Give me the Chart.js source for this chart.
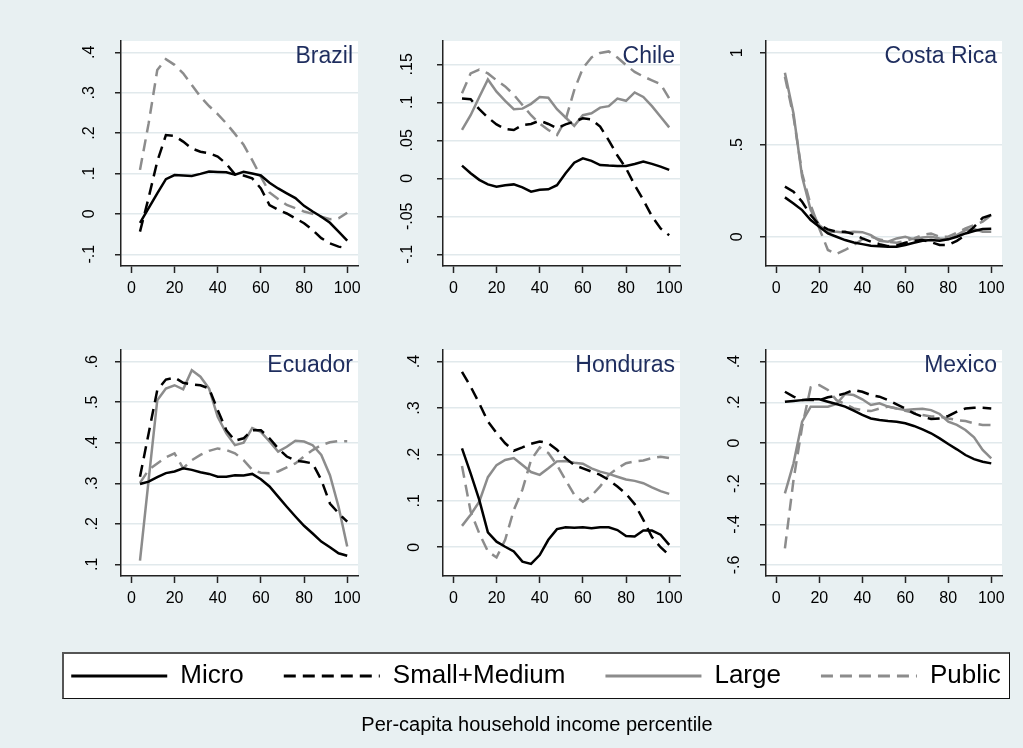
<!DOCTYPE html>
<html>
<head>
<meta charset="utf-8">
<script src="https://cdn.jsdelivr.net/npm/chart.js@4/dist/chart.umd.min.js"></script>
<style>
    html, body { margin: 0; padding: 0; overflow: hidden; }
    body { width: 1023px; height: 748px; background: #e8f0f2; position: relative; font-family: "Liberation Sans", Arial, sans-serif; }
    canvas { position: absolute; }
    #legendBox { position: absolute; left: 62px; top: 652px; width: 948px; height: 47px; box-sizing: border-box; background: #fff;
                 border: 1px solid #111; border-top: 2px solid #555; border-left: 2px solid #555; }
    #note { position: absolute; left: 337px; width: 400px; top: 714px; text-align: center; font-size: 20px; line-height: 20px; color: #000; }
</style>
</head>
<body>
<div id="legendBox"></div>
<div id="panels"></div>
<canvas id="legendChart" width="1030" height="200" style="left:21px; top:623px;"></canvas>
<div id="note">Per-capita household income percentile</div>
<script>
    // percentile grid
    const pct = [4, 8, 12, 16, 20, 24, 28, 32, 36, 40, 44, 48, 52, 56, 60, 64, 68, 72, 76, 80, 84, 88, 92, 96, 100];
    const seriesNames = ['Micro', 'Small+Medium', 'Large', 'Public'];
    const xTicks = [0, 20, 40, 60, 80, 100];

    const brazilMicro = [-0.022, 0.014, 0.051, 0.086, 0.096, 0.095, 0.094, 0.099, 0.105, 0.104, 0.103, 0.097, 0.104, 0.100, 0.095, 0.077, 0.063, 0.051, 0.039, 0.020, 0.006, -0.007, -0.022, -0.044, -0.066];
    const brazilSmall = [-0.044, 0.040, 0.130, 0.195, 0.193, 0.179, 0.162, 0.154, 0.150, 0.142, 0.124, 0.098, 0.095, 0.088, 0.063, 0.022, 0.010, 0.001, -0.011, -0.023, -0.040, -0.060, -0.073, -0.081, -0.085];
    const brazilLarge = [];
    const brazilPublic = [0.109, 0.224, 0.356, 0.383, 0.369, 0.348, 0.319, 0.290, 0.267, 0.247, 0.224, 0.198, 0.171, 0.133, 0.092, 0.053, 0.037, 0.022, 0.014, 0.006, 0.000, -0.007, -0.013, -0.011, 0.003];

    const chileMicro = [0.0167, 0.0066, -0.002, -0.008, -0.011, -0.009, -0.008, -0.012, -0.0175, -0.015, -0.0145, -0.009, 0.0066, 0.0206, 0.0263, 0.023, 0.0175, 0.0167, 0.0162, 0.0162, 0.0189, 0.022, 0.019, 0.0154, 0.011];
    const chileSmall = [0.105, 0.104, 0.091, 0.080, 0.071, 0.065, 0.0636, 0.070, 0.0715, 0.0759, 0.0715, 0.066, 0.071, 0.0746, 0.079, 0.0776, 0.068, 0.050, 0.030, 0.0132, -0.0088, -0.0285, -0.050, -0.066, -0.075];
    const chileLarge = [0.0636, 0.083, 0.107, 0.130, 0.114, 0.102, 0.091, 0.0917, 0.098, 0.107, 0.106, 0.091, 0.080, 0.069, 0.083, 0.0855, 0.093, 0.095, 0.105, 0.102, 0.113, 0.107, 0.095, 0.081, 0.067];
    const chilePublic = [0.112, 0.138, 0.143, 0.138, 0.129, 0.121, 0.110, 0.0965, 0.083, 0.072, 0.0636, 0.057, 0.077, 0.116, 0.145, 0.159, 0.165, 0.167, 0.159, 0.149, 0.140, 0.134, 0.129, 0.124, 0.105];

    const costaMicro = [0.214, 0.181, 0.145, 0.091, 0.054, 0.018, 0.000, -0.018, -0.031, -0.040, -0.049, -0.051, -0.054, -0.054, -0.045, -0.033, -0.022, -0.018, -0.022, -0.014, 0.000, 0.018, 0.031, 0.042, 0.043];
    const costaSmall = [0.272, 0.245, 0.190, 0.118, 0.063, 0.040, 0.027, 0.027, 0.014, -0.009, -0.027, -0.040, -0.051, -0.047, -0.033, -0.022, -0.018, -0.029, -0.045, -0.045, -0.022, 0.009, 0.054, 0.103, 0.118];
    const costaLarge = [0.891, 0.670, 0.326, 0.145, 0.063, 0.027, 0.027, 0.022, 0.027, 0.025, 0.009, -0.022, -0.027, -0.009, 0.000, -0.014, -0.004, 0.000, -0.009, -0.014, 0.009, 0.036, 0.042, 0.027, 0.027];
    const costaPublic = [0.870, 0.652, 0.344, 0.172, 0.045, -0.072, -0.094, -0.072, -0.045, -0.014, 0.000, -0.014, -0.027, -0.033, -0.022, -0.009, 0.009, 0.018, 0.000, 0.000, 0.022, 0.045, 0.063, 0.082, 0.118];

    const ecuadorMicro = [0.298, 0.304, 0.315, 0.325, 0.329, 0.337, 0.333, 0.327, 0.323, 0.316, 0.316, 0.320, 0.319, 0.323, 0.310, 0.292, 0.267, 0.242, 0.218, 0.195, 0.176, 0.156, 0.142, 0.127, 0.121];
    const ecuadorSmall = [0.316, 0.423, 0.530, 0.556, 0.561, 0.548, 0.544, 0.542, 0.534, 0.481, 0.431, 0.405, 0.411, 0.431, 0.431, 0.411, 0.386, 0.366, 0.356, 0.353, 0.349, 0.308, 0.250, 0.226, 0.205];
    const ecuadorLarge = [0.109, 0.308, 0.505, 0.534, 0.542, 0.532, 0.579, 0.563, 0.534, 0.464, 0.423, 0.394, 0.400, 0.436, 0.427, 0.403, 0.378, 0.390, 0.405, 0.403, 0.394, 0.370, 0.320, 0.242, 0.144];
    const ecuadorPublic = [0.301, 0.333, 0.349, 0.364, 0.374, 0.337, 0.357, 0.370, 0.380, 0.386, 0.382, 0.374, 0.357, 0.333, 0.326, 0.325, 0.329, 0.339, 0.349, 0.366, 0.382, 0.394, 0.401, 0.404, 0.404];

    const hondurasMicro = [0.213, 0.159, 0.102, 0.032, 0.012, 0.001, -0.009, -0.031, -0.036, -0.017, 0.016, 0.039, 0.043, 0.042, 0.043, 0.041, 0.043, 0.043, 0.037, 0.024, 0.023, 0.036, 0.036, 0.027, 0.005];
    const hondurasSmall = [0.378, 0.346, 0.310, 0.271, 0.246, 0.224, 0.208, 0.215, 0.223, 0.228, 0.224, 0.210, 0.192, 0.177, 0.170, 0.163, 0.156, 0.145, 0.131, 0.115, 0.093, 0.059, 0.022, 0.000, -0.017];
    const hondurasLarge = [0.046, 0.070, 0.098, 0.151, 0.177, 0.188, 0.192, 0.177, 0.162, 0.156, 0.170, 0.185, 0.186, 0.182, 0.180, 0.170, 0.163, 0.158, 0.152, 0.146, 0.143, 0.138, 0.129, 0.121, 0.115];
    const hondurasPublic = [0.175, 0.077, 0.030, -0.009, -0.022, 0.016, 0.080, 0.124, 0.188, 0.215, 0.203, 0.177, 0.145, 0.113, 0.098, 0.111, 0.131, 0.156, 0.170, 0.181, 0.185, 0.187, 0.192, 0.195, 0.192];

    const mexicoMicro = [0.203, 0.207, 0.211, 0.215, 0.215, 0.203, 0.192, 0.179, 0.159, 0.138, 0.121, 0.113, 0.108, 0.105, 0.097, 0.084, 0.067, 0.048, 0.023, -0.005, -0.031, -0.059, -0.079, -0.092, -0.100];
    const mexicoSmall = [0.252, 0.228, 0.211, 0.211, 0.211, 0.225, 0.233, 0.244, 0.261, 0.252, 0.236, 0.228, 0.211, 0.190, 0.170, 0.146, 0.130, 0.118, 0.121, 0.133, 0.154, 0.170, 0.174, 0.174, 0.170];
    const mexicoLarge = [-0.248, -0.100, 0.105, 0.179, 0.179, 0.179, 0.192, 0.241, 0.236, 0.215, 0.187, 0.195, 0.179, 0.170, 0.162, 0.166, 0.169, 0.162, 0.143, 0.105, 0.089, 0.064, 0.028, -0.034, -0.075];
    const mexicoPublic = [-0.518, -0.182, 0.080, 0.274, 0.285, 0.261, 0.211, 0.192, 0.170, 0.162, 0.157, 0.170, 0.179, 0.170, 0.159, 0.149, 0.138, 0.130, 0.130, 0.121, 0.113, 0.108, 0.097, 0.089, 0.088];

    // y axis ticks and their Stata-style labels
    const brazilTicks = [-0.1, 0, 0.1, 0.2, 0.3, 0.4];
    const brazilLabels = ['-.1', '0', '.1', '.2', '.3', '.4'];
    const chileTicks = [-0.1, -0.05, 0, 0.05, 0.1, 0.15];
    const chileLabels = ['-.1', '-.05', '0', '.05', '.1', '.15'];
    const costaTicks = [0, 0.5, 1];
    const costaLabels = ['0', '.5', '1'];
    const ecuadorTicks = [0.1, 0.2, 0.3, 0.4, 0.5, 0.6];
    const ecuadorLabels = ['.1', '.2', '.3', '.4', '.5', '.6'];
    const hondurasTicks = [0, 0.1, 0.2, 0.3, 0.4];
    const hondurasLabels = ['0', '.1', '.2', '.3', '.4'];
    const mexicoTicks = [-0.6, -0.4, -0.2, 0, 0.2, 0.4];
    const mexicoLabels = ['-.6', '-.4', '-.2', '0', '.2', '.4'];

    const font_family = '"Liberation Sans", Arial, sans-serif';
    const seriesColor = ['#000000', '#000000', '#8c8c8c', '#8c8c8c'];
    const seriesDash = [[], [12, 7], [], [12, 7]];

    const panels = [
        { name: 'Brazil', series: [brazilMicro, brazilSmall, brazilLarge, brazilPublic], yMin: -0.129, yMax: 0.428, ticks: brazilTicks, labels: brazilLabels, col: 0, row: 0 },
        { name: 'Chile', series: [chileMicro, chileSmall, chileLarge, chilePublic], yMin: -0.1154, yMax: 0.1807, ticks: chileTicks, labels: chileLabels, col: 1, row: 0 },
        { name: 'Costa Rica', series: [costaMicro, costaSmall, costaLarge, costaPublic], yMin: -0.159, yMax: 1.064, ticks: costaTicks, labels: costaLabels, col: 2, row: 0 },
        { name: 'Ecuador', series: [ecuadorMicro, ecuadorSmall, ecuadorLarge, ecuadorPublic], yMin: 0.071, yMax: 0.629, ticks: ecuadorTicks, labels: ecuadorLabels, col: 0, row: 1 },
        { name: 'Honduras', series: [hondurasMicro, hondurasSmall, hondurasLarge, hondurasPublic], yMin: -0.062, yMax: 0.425, ticks: hondurasTicks, labels: hondurasLabels, col: 1, row: 1 },
        { name: 'Mexico', series: [mexicoMicro, mexicoSmall, mexicoLarge, mexicoPublic], yMin: -0.654, yMax: 0.4575, ticks: mexicoTicks, labels: mexicoLabels, col: 2, row: 1 },
    ];

    // plot region placement on the page
    const colLeft = [121, 443, 766];
    const colWidth = [237, 237, 236];
    const rowTop = [41, 350];
    const rowHeight = [225, 226];
    const yAxisWidth = 60;
    const xAxisHeight = 40;
    const padTop = 12;
    const padRight = 12;

    const panelBg = {
        id: 'panelBg',
        beforeDraw(chart) {
            const a = chart.chartArea;
            const ctx = chart.ctx;
            ctx.save();
            ctx.fillStyle = '#ffffff';
            ctx.fillRect(a.left, a.top, a.right - a.left, a.bottom - a.top);
            ctx.restore();
        }
    };

    const panelTitle = {
        id: 'panelTitle',
        afterDatasetsDraw(chart, args, opts) {
            const a = chart.chartArea;
            const ctx = chart.ctx;
            ctx.save();
            ctx.font = `23px ${font_family}`;
            ctx.fillStyle = '#1e2d5e';
            ctx.textAlign = 'right';
            ctx.textBaseline = 'alphabetic';
            ctx.fillText(opts.text, a.right - 5, a.top + 22);
            ctx.restore();
        }
    };

    const holder = document.getElementById('panels');

    panels.forEach(p => {
        let canvas = document.createElement('canvas');
        canvas.width = yAxisWidth + colWidth[p.col] + padRight;
        canvas.height = padTop + rowHeight[p.row] + xAxisHeight;
        canvas.style.left = (colLeft[p.col] - yAxisWidth) + 'px';
        canvas.style.top = (rowTop[p.row] - padTop) + 'px';
        holder.appendChild(canvas);

        new Chart(canvas.getContext('2d'), {
            type: 'line',
            data: {
                datasets: p.series.map((vals, k) => ({
                    label: seriesNames[k],
                    data: vals.map((v, j) => ({ x: pct[j], y: v })),
                    borderColor: seriesColor[k],
                    borderDash: seriesDash[k],
                    borderWidth: 2.5,
                    pointRadius: 0,
                    tension: 0,
                    fill: false,
                })),
            },
            options: {
                responsive: false,
                animation: false,
                events: [],
                layout: { padding: { top: padTop, right: padRight, left: 0, bottom: 0 } },
                plugins: {
                    legend: { display: false },
                    tooltip: { enabled: false },
                    panelTitle: { text: p.name },
                },
                scales: {
                    x: {
                        type: 'linear',
                        min: -4.8,
                        max: 105,
                        afterBuildTicks: s => { s.ticks = xTicks.map(v => ({ value: v })); },
                        afterFit: s => { s.height = xAxisHeight; s.paddingLeft = 0; s.paddingRight = 0; },
                        ticks: {
                            color: '#000',
                            font: { family: font_family, size: 16 },
                            padding: 6,
                            maxRotation: 0,
                            autoSkip: false,
                            callback: v => `${v}`,
                        },
                        grid: { display: true, drawOnChartArea: false, drawTicks: true, tickLength: 7, tickColor: '#222', tickWidth: 1.5 },
                        border: { display: true, color: '#222', width: 1.5 },
                    },
                    y: {
                        min: p.yMin,
                        max: p.yMax,
                        afterBuildTicks: s => { s.ticks = p.ticks.map(v => ({ value: v })); },
                        afterFit: s => { s.width = yAxisWidth; s.paddingTop = 0; s.paddingBottom = 0; },
                        ticks: {
                            color: '#000',
                            font: { family: font_family, size: 16 },
                            padding: 16,
                            minRotation: 90,
                            maxRotation: 90,
                            crossAlign: 'center',
                            autoSkip: false,
                            callback: (v, i) => p.labels[i],
                        },
                        grid: { color: '#e1e9ec', lineWidth: 1.5, drawTicks: true, tickLength: 6, tickColor: '#222', tickWidth: 1.5 },
                        border: { display: true, color: '#222', width: 1.5 },
                    },
                },
            },
            plugins: [panelBg, panelTitle],
        });
    });

    // shared legend
    new Chart(document.getElementById('legendChart').getContext('2d'), {
        type: 'line',
        data: {
            datasets: seriesNames.map((n, k) => ({
                label: n,
                data: [],
                borderColor: seriesColor[k],
                borderDash: seriesDash[k],
                borderWidth: 3,
            })),
        },
        options: {
            responsive: false,
            animation: false,
            events: [],
            layout: { padding: 0 },
            scales: { x: { display: false }, y: { display: false } },
            plugins: {
                tooltip: { enabled: false },
                legend: {
                    display: true,
                    position: 'top',
                    align: 'center',
                    labels: {
                        usePointStyle: true,
                        pointStyle: 'line',
                        pointStyleWidth: 96,
                        padding: 40,
                        color: '#000',
                        font: { family: font_family, size: 26 },
                        generateLabels: chart => chart.data.datasets.map((d, k) => ({
                            text: d.label,
                            fillStyle: d.borderColor,
                            strokeStyle: d.borderColor,
                            fontColor: '#000',
                            lineWidth: d.borderWidth,
                            lineDash: d.borderDash,
                            lineCap: 'butt',
                            pointStyle: 'line',
                            hidden: false,
                            datasetIndex: k,
                        })),
                    },
                },
            },
        },
    });
</script>
</body>
</html>
